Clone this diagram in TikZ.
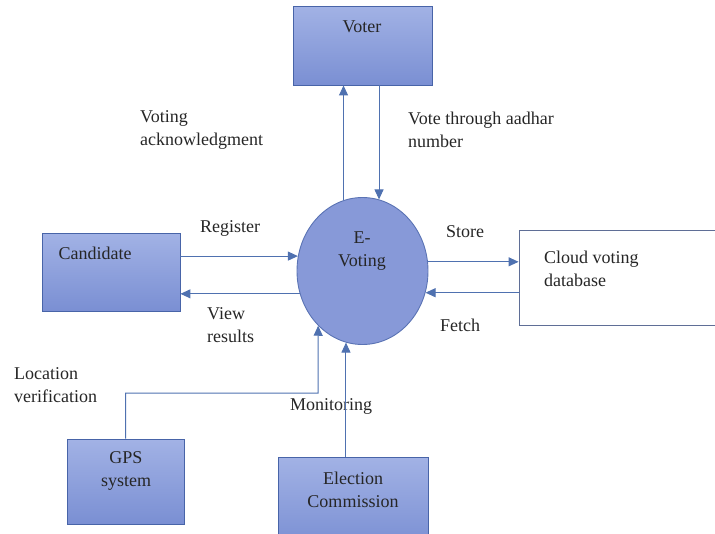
\documentclass[tikz,border=0pt]{standalone}
\usepackage{fontspec}
\setmainfont{Liberation Serif}
\usetikzlibrary{arrows.meta,shapes.geometric}
\definecolor{arrcol}{RGB}{79,113,176}
\definecolor{boxtop}{RGB}{162,178,229}
\definecolor{boxbot}{RGB}{122,143,211}
\definecolor{boxline}{RGB}{72,100,168}
\definecolor{circfill}{RGB}{135,153,216}
\definecolor{circline}{RGB}{90,115,180}
\definecolor{cloudline}{RGB}{95,110,150}
\tikzset{
  bluebox/.style={draw=boxline,line width=0.9pt,top color=boxtop,bottom color=boxbot,rectangle,inner sep=0pt},
  txt/.style={font=\fontsize{18}{23}\selectfont,inner sep=0pt,text=black!85},
  arr/.style={draw=arrcol,line width=1pt,-{Triangle[length=10pt,width=9pt]}},
}
\begin{document}
\begin{tikzpicture}[x=1pt,y=-1pt]
\useasboundingbox (0,0) rectangle (715,533);
% boxes
\node[bluebox,minimum width=139pt,minimum height=79pt] (voter) at (362.5,45.5) {};
\node[bluebox,minimum width=138pt,minimum height=78pt] (cand) at (111,272) {};
\node[bluebox,minimum width=117pt,minimum height=85pt] (gps) at (125.5,481.5) {};
\node[bluebox,minimum width=150pt,minimum height=90pt] (ec) at (353,502) {};
\node[draw=cloudline,line width=0.9pt,fill=white,rectangle,inner sep=0pt,minimum width=206pt,minimum height=95pt] (cloud) at (622,277.5) {};
\node[ellipse,draw=circline,line width=0.9pt,fill=circfill,inner sep=0pt,minimum width=131pt,minimum height=147pt] (ev) at (362.5,271) {};
% texts in boxes
\node[txt] (tvoter) at (362,27) {Voter};
\node[txt] (tcand) at (95,253) {Candidate};
\node[txt,align=center] (tev) at (362,251) {E-\\Voting};
\node[txt,align=left,anchor=west] (tcloud) at (544,269) {Cloud voting\\database};
\node[txt,align=center] (tgps) at (126,471) {GPS\\system};
\node[txt,align=center] (tec) at (353,489.5) {Election\\Commission};
% connector labels
\node[txt,align=left,anchor=west] (lack) at (140,130) {Voting\\acknowledgment};
\node[txt,align=left,anchor=west] (lvote) at (408,130) {Vote through aadhar\\number};
\node[txt] (lreg) at (230,228) {Register};
\node[txt,align=left,anchor=west] (lview) at (207,325) {View\\results};
\node[txt] (lstore) at (465,232) {Store};
\node[txt] (lfetch) at (460,325) {Fetch};
\node[txt,align=left,anchor=west] (lloc) at (14,385) {Location\\verification};
\node[txt] (lmon) at (331,406) {Monitoring};
% connectors
\draw[arr] (ev.105) -- (ev.105 |- voter.south);
\draw[arr] (ev.77 |- voter.south) -- (ev.77);
\draw[arr] (ev.167 -| cand.east) -- (ev.167);
\draw[arr] (ev.200) -- (ev.200 -| cand.east);
\draw[arr] (ev.8) -- (ev.8 -| cloud.west);
\draw[arr] (ev.341 -| cloud.west) -- (ev.341);
\coordinate (gpsbend) at (318,393);
\draw[arr] (gps.north) |- (gpsbend) -- (ev.231);
\draw[arr] (ev.257 |- ec.north) -- (ev.257);
\end{tikzpicture}
\end{document}
